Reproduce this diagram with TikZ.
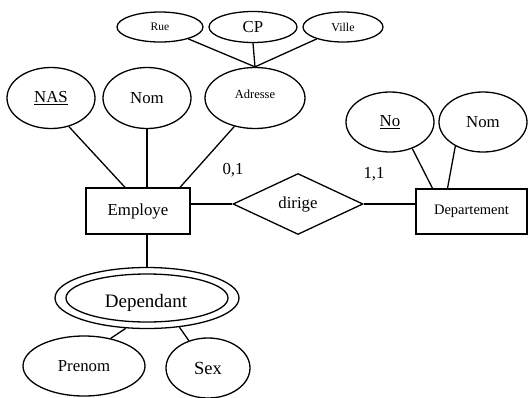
\documentclass[tikz,border=0pt]{standalone}
\usepackage{fontspec}
\setmainfont{Liberation Serif}
\usetikzlibrary{shapes.geometric}
\begin{document}
\begin{tikzpicture}[x=1pt,y=-1pt,line width=1.3pt,
  attr/.style={draw,ellipse,inner sep=0pt,minimum width=#1},
  ent/.style={draw,rectangle,inner sep=0pt},
  big/.style={font=\fontsize{16.8}{19}\selectfont},
  lnk/.style={line width=1.3pt}]
\useasboundingbox (0,0) rectangle (528,397);
% Address sub-attributes
\node[attr=86,minimum height=30,font=\fontsize{11.5}{13}\selectfont] (Rue) at (160,27) {\raisebox{-3pt}{Rue}};
\node[attr=88,minimum height=31,big] (CP) at (253,27) {CP};
\node[attr=80,minimum height=30,font=\fontsize{12}{14}\selectfont] (Ville) at (343,27) {Ville};
\node[attr=100,minimum height=61,font=\fontsize{12.5}{14}\selectfont] (Adresse) at (255,98) {\raisebox{7pt}{Adresse}};
% Employe attributes
\node[attr=88,minimum height=61,big] (NAS) at (51,98) {\underline{NAS}};
\node[attr=88,minimum height=61,big] (NomE) at (147,98) {Nom};
% Entities
\node[ent,minimum width=104,minimum height=46,big] (Employe) at (138,211) {Employe};
\node[ent,minimum width=111,minimum height=45,font=\fontsize{14.5}{17}\selectfont] (Dept) at (471.5,211.5) {Departement};
% Relationship
\node[draw,diamond,aspect=2.13,inner sep=0pt,minimum width=130,minimum height=61,big] (dirige) at (298,204) {dirige};
% Departement attributes
\node[attr=88,minimum height=60,big] (No) at (390,122) {\underline{No}};
\node[attr=88,minimum height=60,big] (NomD) at (483,122) {Nom};
% Weak entity
\node[attr=184,minimum height=61] (Dependant) at (147,298) {};
\node[attr=162,minimum height=48] (DepIn) at (Dependant.center) {};
\node[inner sep=0pt,font=\fontsize{19}{22}\selectfont] (DepText) at (146,303) {Dependant};
\node[attr=122,minimum height=60,big] (Prenom) at (84,366) {Prenom};
\node[attr=84,minimum height=60,font=\fontsize{18.5}{21}\selectfont] (Sex) at (208,368) {Sex};
% Cardinalities
\node[big,inner sep=0pt] (c01) at (233,170) {0,1};
\node[big,inner sep=0pt] (c11) at (374,174) {1,1};
% Connectors
\draw[lnk] (Rue) -- (Adresse.north);
\draw[lnk] (CP.south) -- (Adresse.north);
\draw[lnk] (Ville) -- (Adresse.north);
\draw[lnk] (NAS.-58) -- ([xshift=-13pt]Employe.north);
\draw[lnk] (NomE.south) -- (NomE.south |- Employe.north);
\draw[lnk] (Adresse.-126) -- ([xshift=42pt]Employe.north);
\draw[lnk] (Employe.east |- dirige.west) -- (dirige.west);
\draw[lnk] (dirige.east) -- (Dept.west |- dirige.east);
\draw[lnk] (No.-50) -- ([xshift=-39pt]Dept.north);
\draw[lnk] (NomD.221) -- ([xshift=-24pt]Dept.north);
\draw[lnk] (Dependant.north |- Employe.south) -- (Dependant.north);
\draw[lnk] (Dependant.-125) -- (Prenom.46);
\draw[lnk] (Dependant.-42) -- (Sex.125);
\end{tikzpicture}
\end{document}
